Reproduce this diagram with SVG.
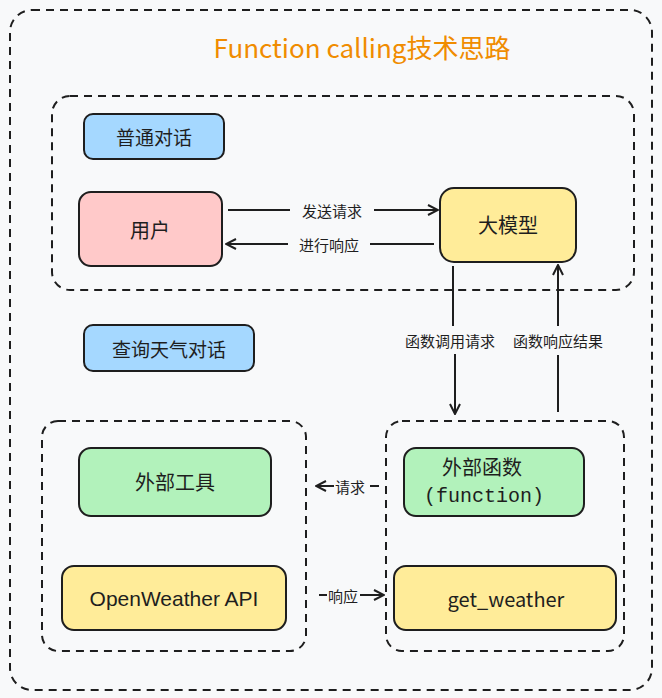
<svg xmlns="http://www.w3.org/2000/svg" width="662" height="698" viewBox="0 0 662 698">
<defs>
<style>
.t{font-family:"Noto Sans CJK SC","Liberation Sans",sans-serif;fill:#1e1e1e;text-anchor:middle;dominant-baseline:central}
.box{stroke:#1e1e1e;stroke-width:2}
.dash{fill:none;stroke:#1e1e1e;stroke-width:2;stroke-dasharray:8 6}
.ln{fill:none;stroke:#1e1e1e;stroke-width:2}
</style>
<marker id="a" viewBox="0 0 12 12" refX="11" refY="6" markerWidth="12" markerHeight="12" markerUnits="userSpaceOnUse" orient="auto"><path d="M1 1L11 6L1 11" fill="none" stroke="#1e1e1e" stroke-width="2"/></marker>
</defs>
<rect width="662" height="698" fill="#f8f9fa"/>
<rect class="dash" x="10" y="10" width="642" height="680" rx="22"/>
<text class="t" x="362" y="46" font-size="26" style="fill:#f08c00">Function calling技术思路</text>
<rect class="dash" x="52" y="96" width="582" height="194" rx="18"/>
<rect class="dash" x="42" y="421" width="264" height="230" rx="16"/>
<rect class="dash" x="386" y="421" width="238" height="230" rx="16"/>
<g id="n1"><rect class="box" x="84" y="114" width="140" height="45" rx="9" fill="#a5d8ff"/><text class="t" x="154" y="136" font-size="19">普通对话</text></g>
<g id="n2"><rect class="box" x="79" y="192" width="143" height="74" rx="12" fill="#ffc9c9"/><text class="t" x="150" y="229" font-size="20">用户</text></g>
<g id="n3"><rect class="box" x="440" y="188" width="136" height="74" rx="14" fill="#ffec99"/><text class="t" x="508" y="224" font-size="20">大模型</text></g>
<g id="n4"><rect class="box" x="84" y="325" width="170" height="46" rx="9" fill="#a5d8ff"/><text class="t" x="169" y="348" font-size="19">查询天气对话</text></g>
<g id="n5"><rect class="box" x="79" y="448" width="192" height="68" rx="12" fill="#b2f2bb"/><text class="t" x="175" y="481" font-size="20">外部工具</text></g>
<g id="n6"><rect class="box" x="404" y="448" width="180" height="68" rx="12" fill="#b2f2bb"/><text class="t" x="482" y="466" font-size="20">外部函数</text><text class="t" x="484" y="496" font-size="20" style="font-family:'Liberation Mono',monospace">(function)</text></g>
<g id="n7"><rect class="box" x="62" y="566" width="224" height="64" rx="12" fill="#ffec99"/><text class="t" x="174" y="598" font-size="21" style="font-family:'Liberation Sans',sans-serif">OpenWeather API</text></g>
<g id="n8"><rect class="box" x="394" y="566" width="222" height="64" rx="12" fill="#ffec99"/><text class="t" x="506" y="598" font-size="20">get_weather</text></g>
<g id="edges">
<path class="ln" d="M228 210H290M374 210H438" marker-end="url(#a)"/>
<text class="t" x="332" y="210" font-size="15">发送请求</text>
<path class="ln" d="M434 244H370M288 244H226" marker-end="url(#a)"/>
<text class="t" x="329" y="244" font-size="15">进行响应</text>
<path class="ln" d="M453 266V326M455 354V414" marker-end="url(#a)"/>
<text class="t" x="450" y="340" font-size="15">函数调用请求</text>
<path class="ln" d="M558 412V355M558 326V265" marker-end="url(#a)"/>
<text class="t" x="558" y="340" font-size="15">函数响应结果</text>
<path class="ln" d="M379 486H370M334 486H316" marker-end="url(#a)"/>
<text class="t" x="350" y="486" font-size="15">请求</text>
<path class="ln" d="M319 595H327M360 595H384" marker-end="url(#a)"/>
<text class="t" x="343" y="595" font-size="15">响应</text>
</g>
</svg>
